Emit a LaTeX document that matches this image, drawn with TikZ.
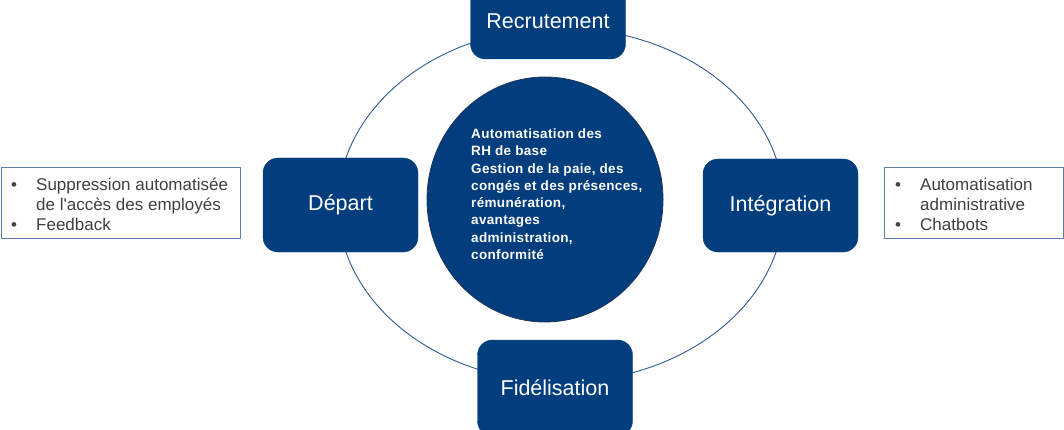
\documentclass[tikz,border=0pt]{standalone}
\usepackage{fontspec}
\usetikzlibrary{shapes.geometric}
\setmainfont{Liberation Sans}
\newfontfamily\circfont[LetterSpace=2.5]{Liberation Sans}
\definecolor{navy}{RGB}{2,62,125}
\definecolor{navyedge}{RGB}{30,52,90}
\definecolor{ringblue}{RGB}{47,90,150}
\definecolor{frameblue}{RGB}{95,125,170}
\definecolor{greytext}{RGB}{64,64,64}
\tikzset{
  stagebox/.style={fill=navy, draw=navy, rounded corners=15pt, minimum width=155pt,
    text=white, font=\fontsize{21.5}{24}\selectfont, inner sep=0pt},
  infoframe/.style={draw=frameblue, line width=0.9pt, fill=white, inner sep=0pt,
    minimum height=71pt},
  infotext/.style={inner sep=0pt, align=left, text=greytext,
    font=\fontsize{17}{20}\selectfont, anchor=west},
}
\newcommand{\bul}{\makebox[25pt][l]{\textbullet}}
\begin{document}
\begin{tikzpicture}[x=1pt,y=-1pt]
\useasboundingbox (0,0) rectangle (1064,430);
\clip (0,0) rectangle (1064,430);
% ring
\draw[ringblue, line width=0.9pt] (561,205) ellipse [x radius=223, y radius=177];
% centre circle
\node[ellipse, fill=navy, draw=navyedge, line width=0.8pt, minimum width=236pt,
  minimum height=245pt, inner sep=0pt] (core) at (545,199.5) {};
\node[anchor=north west, inner sep=0pt, align=left, text=white,
  font=\circfont\bfseries\fontsize{13.5}{17.3}\selectfont] (coretext) at (471,128.5)
  {Automatisation des\\RH de base\\Gestion de la paie, des\\congés et des présences,\\rémunération,\\avantages\\administration,\\conformité};
% stage boxes
\node[stagebox, minimum height=76pt] (recr) at (548,21) {Recrutement};
\node[stagebox, minimum height=94pt] (dep) at (340.5,205) {Départ};
\node[stagebox, minimum height=93pt] (integ) at (780.5,205.5) {Intégration};
\node[stagebox, minimum height=96pt] (fid) at (555,388) {Fidélisation};
% info boxes
\node[infoframe, minimum width=239pt, anchor=north west] (leftinfo) at (1,167) {};
\node[infotext] (lefttext) at ([xshift=10pt,yshift=-1pt]leftinfo.west)
  {\bul Suppression automatisée\\\hspace*{25pt}de l\textquotesingle accès des employés\\\bul Feedback};
\node[infoframe, minimum width=179pt, anchor=north west] (rightinfo) at (884,167) {};
\node[infotext] (righttext) at ([xshift=11pt,yshift=-1pt]rightinfo.west)
  {\bul Automatisation\\\hspace*{25pt}administrative\\\bul Chatbots};
\end{tikzpicture}
\end{document}
